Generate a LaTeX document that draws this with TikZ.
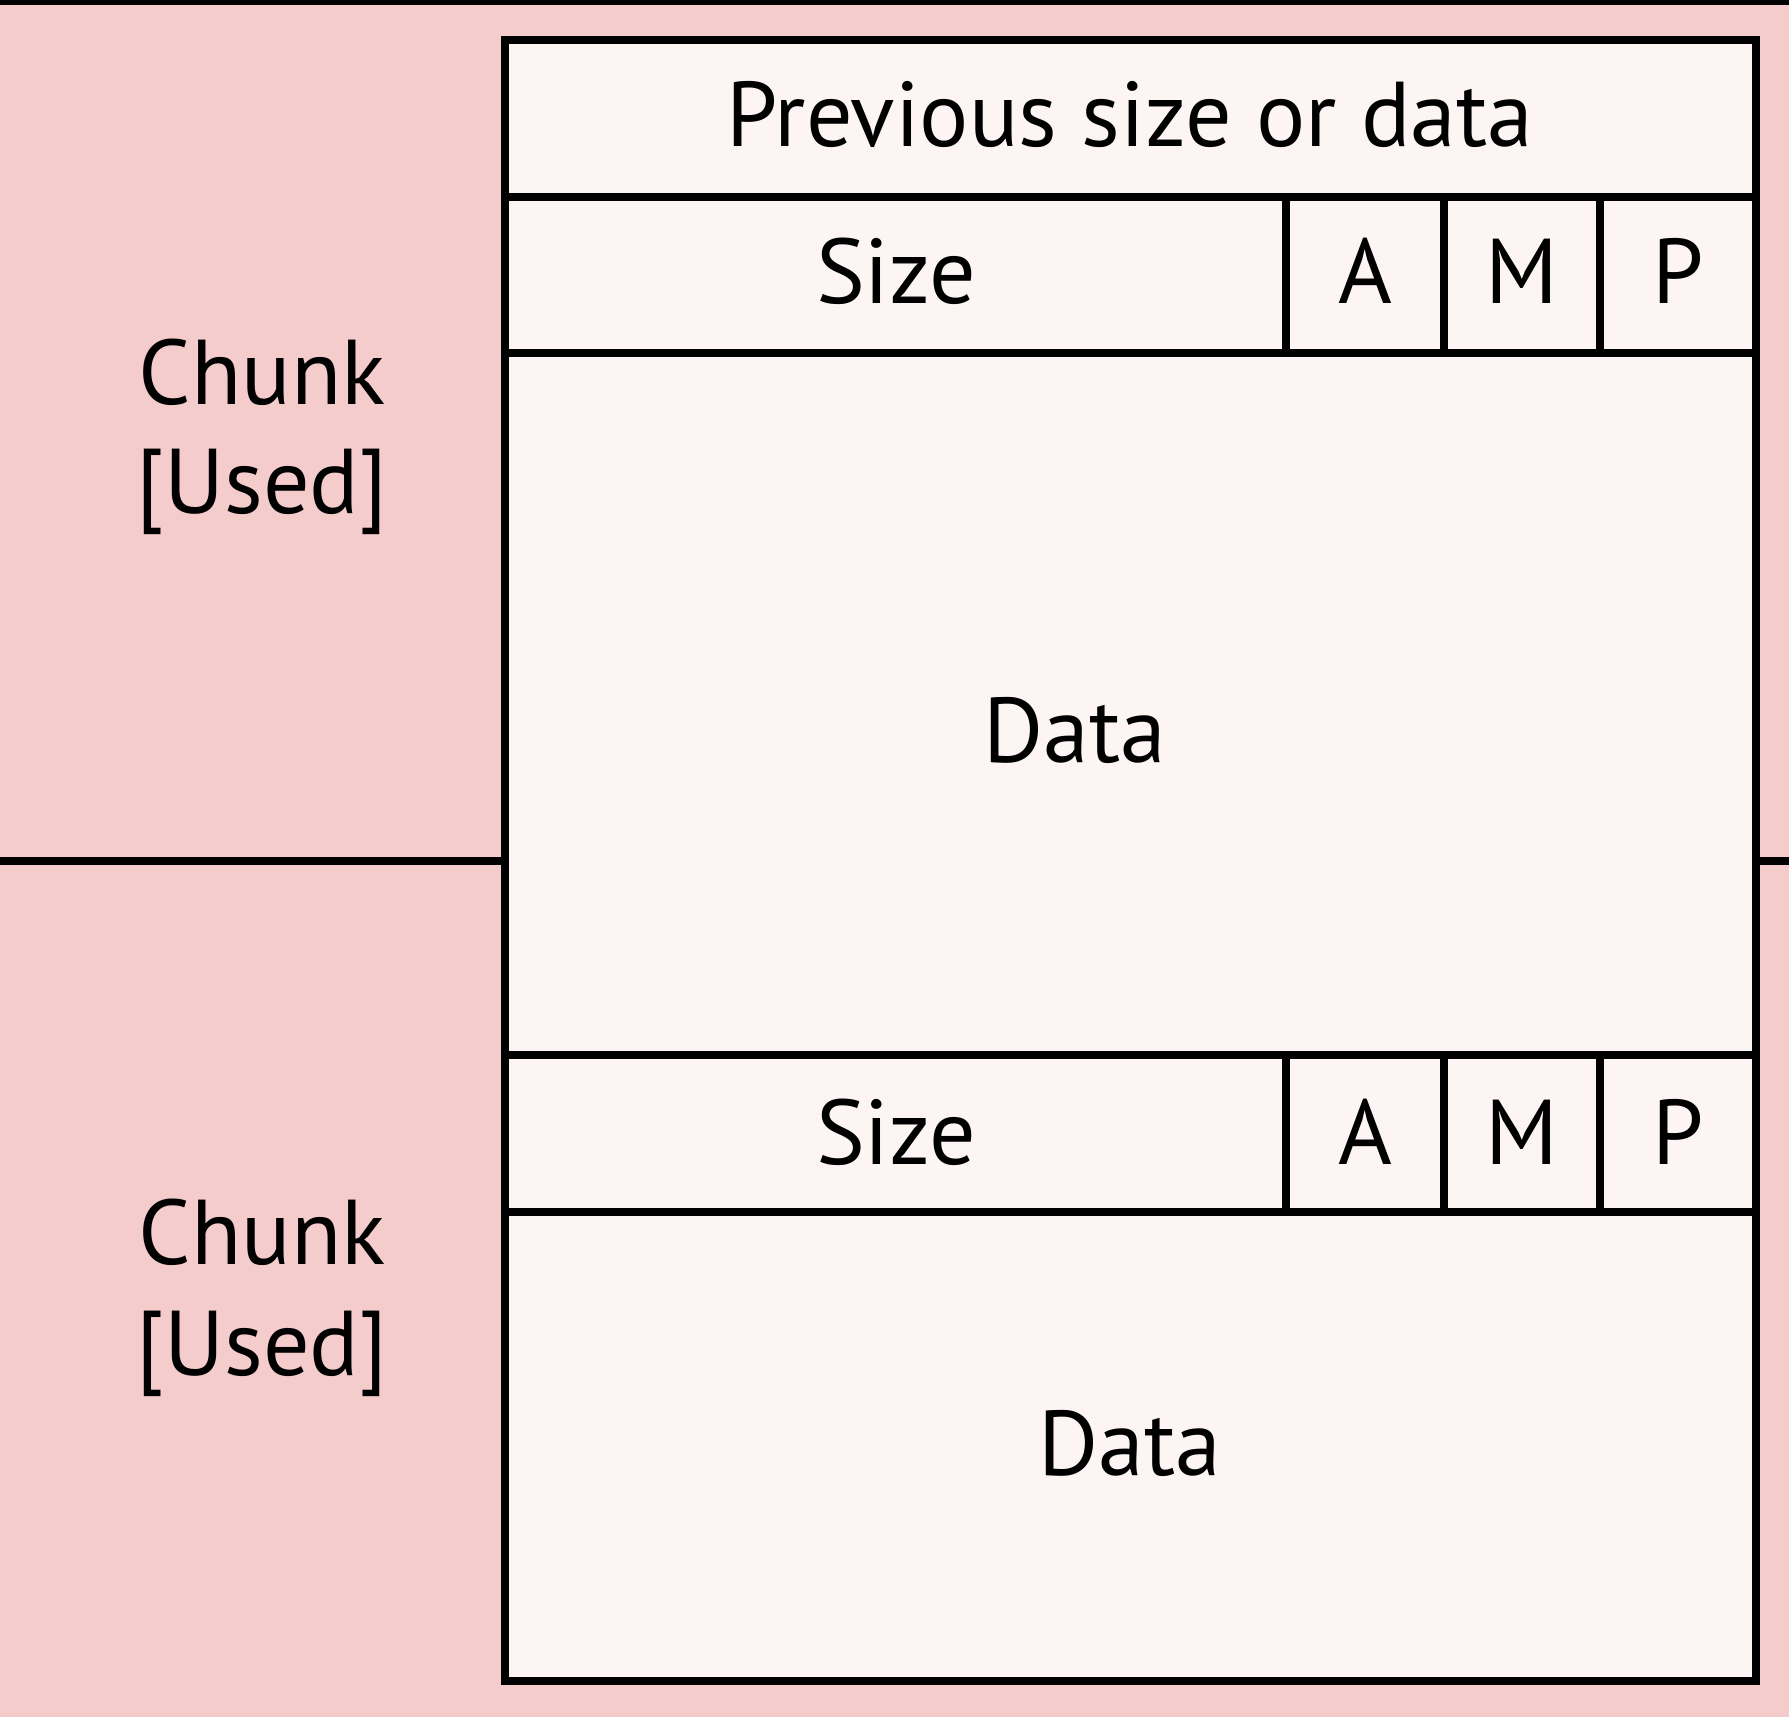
\documentclass[tikz,border=0pt]{standalone}
\usepackage{fontspec}
\setmainfont{PT Sans}
\definecolor{chunkbg}{HTML}{F4CCCC}
\definecolor{cellbg}{HTML}{FDF4F4}
\begin{document}
\begin{tikzpicture}[x=0.25pt,y=-0.25pt,
  frame/.style={line width=2pt,draw=black},
  lbl/.style={font=\fontsize{23}{27}\selectfont,inner sep=0pt,anchor=base},
  side/.style={font=\fontsize{23}{27}\selectfont,inner sep=0pt,align=center,anchor=base}]
  % page background
  \fill[chunkbg] (0,0) rectangle (1789,1717);
  \useasboundingbox (0,0) rectangle (1789,1717);
  \fill[black] (0,0) rectangle (1789,5);
  % chunk boundary
  \draw[frame] (0,861) -- (505,861);
  \draw[frame] (1756,861) -- (1789,861);
  % chunk layout box
  \filldraw[frame,fill=cellbg] (505,40) rectangle (1756,1681);
  \draw[frame] (505,197) -- (1756,197);
  \draw[frame] (505,353) -- (1756,353);
  \draw[frame] (505,1055) -- (1756,1055);
  \draw[frame] (505,1212) -- (1756,1212);
  \foreach \xx in {1286,1444,1600} {
    \draw[frame] (\xx,197) -- (\xx,353);
    \draw[frame] (\xx,1055) -- (\xx,1212);
  }
  % field labels
  \node[lbl] (prev) at (1130,146) {Previous size or data};
  \node[lbl] (size1) at (896,303) {Size};
  \node[lbl] (a1) at (1365,303) {A};
  \node[lbl] (m1) at (1522,303) {M};
  \node[lbl] (p1) at (1678,303) {P};
  \node[lbl] (data1) at (1075,762) {Data};
  \node[lbl] (size2) at (896,1164) {Size};
  \node[lbl] (a2) at (1365,1164) {A};
  \node[lbl] (m2) at (1522,1164) {M};
  \node[lbl] (p2) at (1678,1164) {P};
  \node[lbl] (data2) at (1130,1475) {Data};
  % chunk labels
  \node[lbl] (chunk1) at (262,404) {Chunk};
  \node[lbl] (used1) at (262,513) {[Used]};
  \node[lbl] (chunk2) at (262,1264) {Chunk};
  \node[lbl] (used2) at (262,1375) {[Used]};
\end{tikzpicture}
\end{document}
